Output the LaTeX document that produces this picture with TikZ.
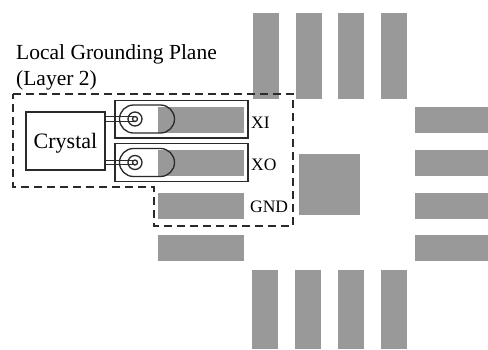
\documentclass[tikz,border=0pt]{standalone}
\usepackage{fontspec}
\setmainfont{Liberation Serif}
\definecolor{padgray}{HTML}{999999}
\definecolor{linegray}{HTML}{2A2A2A}
\tikzset{pad/.style={fill=padgray, draw=none},
wire/.style={draw=linegray, line width=1.3pt},
pinlabel/.style={anchor=base west, inner sep=0pt, font=\fontsize{17.5}{20}\selectfont},
planelabel/.style={anchor=base west, inner sep=0pt, font=\fontsize{21.5}{24}\selectfont}}

\begin{document}
\begin{tikzpicture}[x=1pt, y=-1pt]
\useasboundingbox (0,0) rectangle (488,349);
\foreach \x in {253,296,338,381}
\fill[pad] (\x,13) rectangle (\x+26,99);
\foreach \x in {252,295,338,381}
\fill[pad] (\x,270) rectangle (\x+26,349);
\foreach \y in {107,150,192.5,235}
\fill[pad] (415,\y) rectangle (488,\y+26);
\foreach \y in {107,150,192.5,235}
\fill[pad] (158,\y) rectangle (244,\y+26);
\fill[pad] (299,154) rectangle (360,215);
\draw[wire] (115,100.5) rectangle (248,138);
\draw[wire] (115,143.5) rectangle (248,181.5);
\foreach \y/\n in {119/XI,162.5/XO} {
\fill[white] (119.5,\y-14) rectangle (158,\y+14);
\draw[wire] (160.5,\y-14) -- (133.5,\y-14) arc[start angle=90, end angle=270, radius=14pt] -- (160.5,\y+14) arc[start angle=-90, end angle=90, radius=14pt] -- cycle;
\coordinate (\n) at (135,\y);
\draw[wire] (\n) circle (7);
\draw[wire] (\n) circle (2.5);
}
\node[draw=linegray, line width=1.3pt, minimum width=79pt, minimum height=58pt, inner sep=0pt, text depth=1pt, font=\fontsize{22}{24}\selectfont] (crystal) at (65.5,141) {Crystal};
\foreach \n in {XI,XO} {
\draw[wire] (crystal.east |- \n) ++(0,-2.2) -- ++(30,0);
\draw[wire] (crystal.east |- \n) ++(0,2.2) -- ++(30,0);
}
\draw[wire, dash pattern=on 8pt off 5pt] (13,94) -- (293,94) -- (293,226) -- (154,226) -- (154,187) -- (13,187) -- cycle;
\node[pinlabel] (labelXI) at (251,128) {XI};
\node[pinlabel] (labelXO) at (251,170.5) {XO};
\node[pinlabel] (labelGND) at (250,212) {GND};
\node[planelabel] (plane) at (16,59) {Local Grounding Plane};
\node[planelabel] (layer) at (16,85) {(Layer 2)};
\end{tikzpicture}
\end{document}
